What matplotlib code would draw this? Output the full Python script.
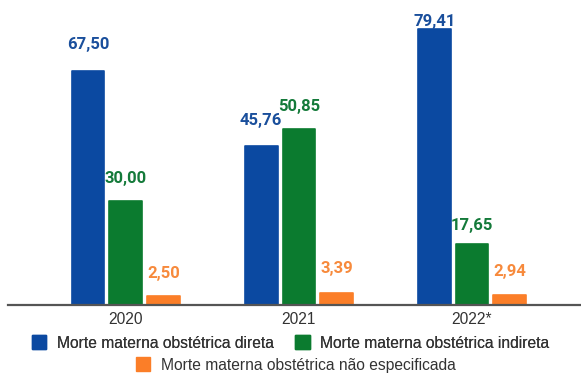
import matplotlib
matplotlib.use("Agg")
import matplotlib.pyplot as plt
from matplotlib.patches import Patch

# Razão de mortalidade materna por tipo de causa obstétrica
anos = ["2020", "2021", "2022*"]
direta = [67.50, 45.76, 79.41]
indireta = [30.00, 50.85, 17.65]
nao_especificada = [2.50, 3.39, 2.94]

series_nomes = [
    "Morte materna obstétrica direta",
    "Morte materna obstétrica indireta",
    "Morte materna obstétrica não especificada",
]

cores_barra = ["#0b49a1", "#0b7b2f", "#fb7e28"]
cores_texto = ["#1a4f9c", "#147a3a", "#f78a3c"]
# distância (px) entre o topo de cada barra e o seu rótulo
folgas = [[22, 21, 3], [18, 18, 14], [18, 20, 19]]

plt.rcParams["font.family"] = ["Roboto", "DejaVu Sans"]
fonte_eixo = ["Liberation Sans", "DejaVu Sans"]

W, H = 581, 373
fig = plt.figure(figsize=(W / 100, H / 100), dpi=100)
ax = fig.add_axes([8 / W, (H - 305) / H, 1 - 8 / W, 305 / H])

x = list(range(len(anos)))
largura = 0.188
deslocamento = 0.217
px2pt = 72 / 100

for i, (valores, cb, ct) in enumerate(zip([direta, indireta, nao_especificada], cores_barra, cores_texto)):
    pos = [xi + (i - 1) * deslocamento for xi in x]
    barras = ax.bar(pos, valores, width=largura, color=cb, edgecolor=cb,
                    linewidth=1.2, zorder=2)
    for b in barras:
        b.set_joinstyle("round")
    for j, (p, v) in enumerate(zip(pos, valores)):
        ax.annotate(f"{v:.2f}".replace(".", ","), xy=(p, v),
                    xytext=(0, folgas[i][j] * px2pt), textcoords="offset points",
                    ha="center", va="baseline", fontsize=12, fontweight="bold",
                    color=ct)

ax.set_xlim(-0.68, 2.63)
ax.set_ylim(0, 87.9)
ax.set_xticks(x)
ax.set_xticklabels(anos, fontsize=11.2, color="#333333", family=fonte_eixo)
ax.tick_params(axis="x", length=0, pad=5)
ax.set_yticks([])
for s in ["top", "right", "left"]:
    ax.spines[s].set_visible(False)
ax.spines["bottom"].set_color("#555555")
ax.spines["bottom"].set_linewidth(1.6)
ax.spines["bottom"].set_zorder(3)

handles = [Patch(facecolor=c, edgecolor=c, joinstyle="round", linewidth=1.0) for c in cores_barra]
props = {"family": fonte_eixo, "size": 11.25}
leg1 = fig.legend(handles[:2], series_nomes[:2], ncol=2, loc="center",
                  bbox_to_anchor=(290.5 / W, 1 - 343 / H), frameon=False,
                  prop=props, handlelength=0.95, handleheight=0.95,
                  handletextpad=0.65, columnspacing=1.4, labelcolor="#333333",
                  borderpad=0, borderaxespad=0)
fig.add_artist(leg1)
fig.legend(handles[2:], series_nomes[2:], loc="center",
           bbox_to_anchor=(295.5 / W, 1 - 365 / H), frameon=False,
           prop=props, handlelength=0.95, handleheight=0.95,
           handletextpad=0.65, labelcolor="#333333",
           borderpad=0, borderaxespad=0)

fig.savefig("out.png", dpi=100)
